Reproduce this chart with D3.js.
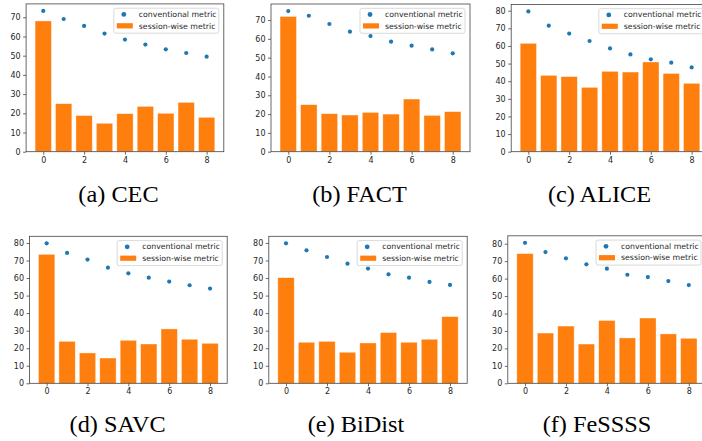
<!DOCTYPE html>
<html>
<head>
<meta charset="utf-8">
<script src="https://cdn.jsdelivr.net/npm/d3@7"></script>
<style>
  html, body { margin: 0; padding: 0; background: #fff; }
  svg { display: block; }
</style>
</head>
<body>
<div id="grafica"></div>
<script>
// sessions on the x axis
var sessions = [0, 1, 2, 3, 4, 5, 6, 7, 8];
var xTicks = [0, 2, 4, 6, 8];

// values (accuracy, %)
var cecConv = [73.3, 69.1, 65.5, 61.5, 58.4, 55.8, 53.3, 51.4, 49.5];
var cecSess = [68.1, 25.0, 18.8, 14.8, 19.8, 23.6, 20.0, 25.7, 17.9];
var factConv = [74.8, 72.3, 67.9, 63.8, 61.5, 58.5, 56.4, 54.4, 52.3];
var factSess = [71.9, 25.0, 20.2, 19.5, 20.9, 20.0, 28.0, 19.3, 21.3];
var aliceConv = [79.6, 71.5, 67.0, 62.8, 58.6, 55.2, 52.4, 50.5, 47.8];
var aliceSess = [61.5, 43.3, 42.6, 36.5, 45.6, 45.2, 50.9, 44.4, 38.8];
var savcConv = [79.8, 74.3, 70.5, 65.9, 62.7, 60.2, 58.0, 55.9, 54.0];
var savcSess = [73.5, 23.9, 17.3, 14.4, 24.5, 22.4, 31.0, 25.1, 22.8];
var bidistConv = [79.8, 75.8, 72.0, 68.2, 65.4, 62.1, 60.2, 57.8, 56.1];
var bidistSess = [60.2, 23.4, 23.9, 17.7, 23.0, 28.9, 23.4, 25.1, 38.0];
var fessssConv = [80.5, 75.2, 71.6, 68.2, 65.7, 62.2, 60.9, 58.6, 56.3];
var fessssSess = [74.3, 28.8, 32.8, 22.5, 36.0, 26.0, 37.4, 28.3, 25.8];

var captions = ["(a) CEC", "(b) FACT", "(c) ALICE", "(d) SAVC", "(e) BiDist", "(f) FeSSSS"];
var legendLabels = ["conventional metric", "session-wise metric"];

var width = 702, height = 441;
var blue = "#1f77b4", orange = "#ff7f0e";

var svg = d3.select("#grafica").append("svg")
    .attr("width", width)
    .attr("height", height);

// panel boxes: left, right, top, bottom, caption center, caption baseline
var panels = [
    { conv: cecConv, sess: cecSess, box: [26.1, 223.8, 3.9, 151.7], cap: [118.5, 202] },
    { conv: factConv, sess: factSess, box: [271.0, 470.0, 4.0, 151.7], cap: [359.5, 202] },
    { conv: aliceConv, sess: aliceSess, box: [511.2, 708.8, 4.4, 151.7], cap: [599.5, 202] },
    { conv: savcConv, sess: savcSess, box: [29.5, 227.2, 236.3, 383.3], cap: [117.6, 432] },
    { conv: bidistConv, sess: bidistSess, box: [268.8, 467.2, 236.3, 383.3], cap: [356, 432] },
    { conv: fessssConv, sess: fessssSess, box: [507.8, 706.0, 235.8, 383.3], cap: [597, 432] }
];

function drawPanel(p, i) {
    var left = p.box[0], right = p.box[1], top = p.box[2], bottom = p.box[3];

    // matplotlib style autoscale: 5% margins
    var xMin = -0.4, xMax = sessions.length - 1 + 0.4;
    var pad = (xMax - xMin) * 0.05;
    var x = d3.scaleLinear().domain([xMin - pad, xMax + pad]).range([left, right]);
    var yMax = d3.max(p.conv.concat(p.sess)) * 1.05;
    var y = d3.scaleLinear().domain([0, yMax]).range([bottom, top]);

    var g = svg.append("g");

    // bars
    g.selectAll("rect.bar")
        .data(p.sess)
        .enter().append("rect")
        .attr("class", "bar")
        .attr("x", function (d, j) { return x(sessions[j] - 0.4); })
        .attr("width", x(0.8) - x(0))
        .attr("y", function (d) { return y(d); })
        .attr("height", function (d) { return y(0) - y(d); })
        .attr("fill", orange)
        .attr("stroke", "#fff")
        .attr("stroke-opacity", 0.6)
        .attr("stroke-width", 0.6);

    // dots
    g.selectAll("circle.dot")
        .data(p.conv)
        .enter().append("circle")
        .attr("class", "dot")
        .attr("cx", function (d, j) { return x(sessions[j]); })
        .attr("cy", function (d) { return y(d); })
        .attr("r", 2.1)
        .attr("fill", blue);

    // axes
    var xAxis = d3.axisBottom(x).tickValues(xTicks).tickSize(3).tickPadding(2.5);
    var yAxis = d3.axisLeft(y).ticks(8).tickSize(3).tickPadding(2.5);

    var gx = g.append("g").attr("transform", "translate(0," + bottom + ")").call(xAxis);
    var gy = g.append("g").attr("transform", "translate(" + left + ",0)").call(yAxis);

    [gx, gy].forEach(function (a) {
        a.select(".domain").remove();
        a.selectAll(".tick line").attr("stroke", "#444").attr("stroke-width", 0.8);
        a.selectAll(".tick text")
            .attr("fill", "#262626")
            .style("font-family", "'DejaVu Sans', sans-serif")
            .style("font-size", "8px");
    });

    // frame
    g.append("rect")
        .attr("x", left).attr("y", top)
        .attr("width", right - left).attr("height", bottom - top)
        .attr("fill", "none")
        .attr("stroke", "#444")
        .attr("stroke-width", 0.8);

    // legend
    var lw = 105, lh = 25;
    var lx = right - 5 - lw, ly = top + 4.3;
    var leg = g.append("g").attr("transform", "translate(" + lx + "," + ly + ")");
    leg.append("rect")
        .attr("width", lw).attr("height", lh)
        .attr("rx", 2)
        .attr("fill", "#fff").attr("fill-opacity", 0.8)
        .attr("stroke", "#d0d0d0").attr("stroke-width", 0.8);
    leg.append("circle")
        .attr("cx", 10).attr("cy", 6.2).attr("r", 2.4)
        .attr("fill", blue);
    leg.append("rect")
        .attr("x", 3).attr("y", 15).attr("width", 16).attr("height", 5.2)
        .attr("fill", orange);
    leg.selectAll("text")
        .data(legendLabels)
        .enter().append("text")
        .attr("x", 25)
        .attr("y", function (d, j) { return 6 + j * 11.6; })
        .attr("dy", "0.35em")
        .attr("fill", "#262626")
        .style("font-family", "'DejaVu Sans', sans-serif")
        .style("font-size", "7.8px")
        .text(function (d) { return d; });

    // caption under the panel
    svg.append("text")
        .attr("transform", "translate(" + p.cap[0] + "," + p.cap[1] + ") scale(1.08,1)")
        .attr("text-anchor", "middle")
        .attr("fill", "#000")
        .style("font-family", "'Liberation Serif', 'Times New Roman', serif")
        .style("font-size", "22.5px")
        .text(captions[i]);
}

panels.forEach(drawPanel);
</script>
</body>
</html>
